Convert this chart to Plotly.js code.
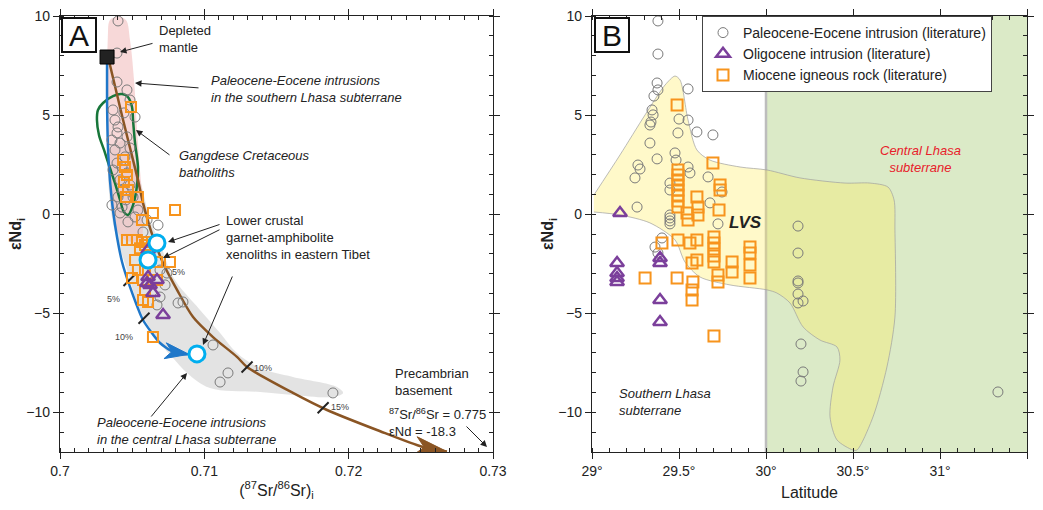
<!DOCTYPE html>
<html><head><meta charset="utf-8">
<script src="https://cdn.plot.ly/plotly-3.0.1.min.js"></script>
<style>html,body{margin:0;padding:0;background:#fff}#chart{width:1043px;height:510px}</style>
</head><body><div id="chart"></div>
<script>
// ---------- Panel A data: (87Sr/86Sr)i vs eNd(i) ----------
const peA_sr = [0.70402,0.70395,0.70395,0.70464,0.70520,0.70381,0.70402,0.70395,0.70416,0.70464,0.70381,0.70450,0.70395,0.70430,0.70464,0.70416,0.70437,0.70402,0.70457,0.70430,0.70416,0.70471,0.70520,0.70603,0.70679,0.70693,0.70741,0.70728,0.70693,0.70818,0.70852,0.70672,0.71060,0.71164,0.71109,0.71891,0.70367,0.70485,0.70443,0.70360,0.70485,0.70367,0.70485,0.70506,0.70360,0.70540,0.70575];
const peA_nd = [9.75,8.13,6.67,6.27,4.90,4.75,4.40,4.10,3.59,3.90,3.24,2.89,2.58,2.38,2.08,1.73,1.22,0.87,0.72,0.36,0.06,-0.39,-0.14,-0.29,-0.55,-2.82,-2.97,-3.57,-4.18,-4.48,-4.43,-4.58,-6.60,-8.01,-8.47,-9.02,5.26,5.76,5.11,3.74,3.34,2.23,1.47,0.87,0.46,0.21,-0.90];
const miA_sr = [0.70492,0.70437,0.70450,0.70464,0.70443,0.70471,0.70457,0.70540,0.70568,0.70644,0.70797,0.70464,0.70499,0.70533,0.70568,0.70589,0.70610,0.70520,0.70672,0.70762,0.70499,0.70575,0.70672,0.70589,0.70575,0.70610,0.70644,0.70554,0.70540,0.70589];
const miA_nd = [5.41,2.73,2.38,1.98,1.62,1.22,0.87,0.87,-0.29,0.06,0.21,-1.30,-1.30,-1.30,-1.40,-1.55,-1.40,-2.31,-2.41,-2.41,-3.22,-3.32,-3.32,-3.82,-4.33,-4.43,-6.20,-1.72,-2.82,-2.82];
const olA_sr = [0.70610,0.70610,0.70603,0.70624,0.70672,0.70644,0.70714];
const olA_nd = [-1.81,-3.17,-3.47,-3.57,-3.32,-3.98,-5.09];
const xeno_sr = [0.70672,0.70610,0.70949];
const xeno_nd = [-1.45,-2.31,-7.05];
const dm_sr = [0.70326];
const dm_nd = [7.93];
// mixing curves
const blue_sr = [0.70326,0.70326,0.70333,0.70346,0.70367,0.70395,0.70430,0.70485,0.70575,0.70693,0.70783,0.70850,0.70893];
const blue_nd = [7.93,5.76,3.24,1.73,0.21,-1.15,-2.41,-3.67,-5.34,-6.50,-6.95,-7.05,-7.07];
const brown_sr = [0.70333,0.70437,0.70540,0.70575,0.70644,0.70714,0.70811,0.70922,0.71060,0.71226,0.71296,0.71614,0.71850,0.72196,0.72515,0.72681];
const brown_nd = [7.93,4.75,1.73,0.57,-1.15,-2.46,-3.82,-5.19,-6.20,-7.20,-7.71,-9.02,-9.88,-10.89,-11.75,-11.98];
const pctTick_sr = [0.70478,0.70582,0.71296,0.71823];
const pctTick_nd = [-3.35,-5.25,-7.71,-9.77];
// fields
const pink_sr = [0.70333,0.70346,0.70402,0.70457,0.70485,0.70513,0.70534,0.70554,0.70575,0.70554,0.70450,0.70381,0.70346,0.70333,0.70326,0.70326];
const pink_nd = [9.29,9.80,9.98,9.80,8.79,6.77,4.25,2.23,0.21,-1.30,-1.30,-0.55,1.22,3.24,5.76,7.78];
const gray_sr = [0.70346,0.70450,0.70554,0.70624,0.70693,0.70783,0.70970,0.71109,0.71226,0.71386,0.71614,0.71919,0.71961,0.71891,0.71614,0.71386,0.71039,0.70880,0.70783,0.70693,0.70554,0.70464,0.70367,0.70333];
const gray_nd = [3.24,3.74,1.73,-0.29,-1.45,-3.17,-4.83,-5.99,-7.00,-7.76,-8.21,-8.72,-9.02,-9.22,-9.12,-8.97,-8.77,-8.01,-7.26,-6.50,-4.83,-2.82,-0.44,1.73];
const gang_sr = [0.70256,0.70263,0.70298,0.70367,0.70430,0.70471,0.70499,0.70506,0.70520,0.70540,0.70534,0.70506,0.70471,0.70443,0.70416,0.70381,0.70346,0.70305,0.70270,0.70256];
const gang_nd = [4.75,5.26,5.61,5.96,6.06,5.91,5.41,4.75,3.59,2.38,1.47,0.46,-0.04,0.11,0.72,1.57,2.33,3.24,4.00,4.75];

// ---------- Panel B data: latitude vs eNd(i) ----------
const peB_lat = [29.379,29.379,29.374,29.379,29.552,29.356,29.345,29.351,29.333,29.339,29.500,29.552,29.494,29.603,29.695,29.333,29.477,29.374,29.483,29.264,29.276,29.247,29.552,29.563,29.667,29.448,29.448,29.747,29.259,29.678,29.448,29.448,29.448,29.448,29.724,29.402,29.362,29.379,30.184,30.184,30.184,30.184,30.184,30.184,30.213,30.201,30.213,30.201,31.333];
const peB_nd = [9.75,8.08,6.62,6.27,6.32,5.96,5.26,5.01,4.50,4.65,4.80,4.75,4.10,4.15,4.00,3.59,3.09,2.79,2.73,2.48,2.28,1.83,2.38,2.08,1.88,1.57,1.22,1.12,0.36,0.57,-0.04,-0.19,-0.34,-0.49,-0.49,-1.20,-1.66,-1.96,-0.60,-1.96,-3.37,-3.47,-4.03,-4.48,-4.38,-6.55,-7.96,-8.42,-8.97];
const olB_lat = [29.161,29.144,29.144,29.144,29.144,29.391,29.391,29.391,29.391];
const olB_nd = [0.06,-2.46,-2.97,-3.22,-3.42,-2.21,-2.46,-4.33,-5.44];
const miB_lat = [29.489,29.494,29.494,29.494,29.494,29.494,29.494,29.494,29.494,29.546,29.552,29.603,29.609,29.609,29.695,29.736,29.736,29.730,29.402,29.494,29.563,29.603,29.701,29.701,29.701,29.701,29.701,29.575,29.603,29.908,29.908,29.908,29.908,29.805,29.805,29.724,29.724,29.305,29.489,29.580,29.575,29.575,29.701];
const miB_nd = [5.51,2.23,1.98,1.73,1.47,1.22,0.97,0.67,0.36,0.06,-0.29,0.87,0.36,-0.04,2.58,1.47,1.22,0.21,-1.45,-1.30,-1.45,-1.30,-1.15,-1.45,-1.76,-2.11,-2.41,-2.46,-2.31,-1.66,-1.96,-2.56,-3.22,-2.41,-2.92,-3.07,-3.42,-3.22,-3.22,-3.42,-3.82,-4.33,-6.15];
const lvs_lat = [29.011,29.161,29.305,29.420,29.477,29.506,29.552,29.603,29.678,29.851,30.006,30.195,30.454,30.598,30.701,30.736,30.741,30.741,30.695,30.615,30.523,30.500,30.408,30.368,30.385,30.425,30.408,30.310,30.213,30.138,30.063,30.006,29.793,29.621,29.534,29.477,29.333,29.161,29.011];
const lvs_nd = [0.97,2.99,5.01,6.52,6.97,6.77,4.75,3.24,2.73,2.38,2.23,1.83,1.57,1.57,1.37,0.72,-0.80,-5.19,-7.71,-10.23,-11.90,-11.90,-11.39,-10.23,-8.72,-7.36,-6.70,-6.35,-5.69,-4.48,-3.98,-3.82,-3.57,-3.17,-2.41,-1.30,-0.44,-0.04,0.11];
const centralLhasaLat = [30.0, 31.5];

const yTicks = [-10,-5,0,5,10];
const xTicksA = [0.70,0.71,0.72,0.73];
const xTickTextA = ['0.7','0.71','0.72','0.73'];
const xTicksB = [29,29.5,30,30.5,31,31.5];
const xTickTextB = ['29°','29.5°','30°','30.5°','31°','31.5°'];

const FONT = 'Arial, "Liberation Sans", sans-serif';
const CIRC = '#7a7a7a', ORANGE = '#f7941d', PURPLE = '#7b3f9b', CYAN = '#00aeef';

// geometry of panel A (used only to shape the curve arrowheads in screen space)
const W = 1043, H = 510, M = {l:60, r:16, t:16, b:58};
const plotW = W - M.l - M.r, plotH = H - M.t - M.b;
const domA = [0, 433/plotW], rangeXA = [0.7, 0.73], rangeY = [-12, 10];
const kx = plotW*(domA[1]-domA[0])/(rangeXA[1]-rangeXA[0]);
const ky = plotH/(rangeY[1]-rangeY[0]);
function arrowHead(xs, ys, backIdx, len, half){
  const n = xs.length, tx = xs[n-1], ty = ys[n-1];
  let dx = (tx - xs[backIdx])*kx, dy = (ty - ys[backIdx])*ky;
  const d = Math.hypot(dx, dy); dx/=d; dy/=d;
  const nx = -dy, ny = dx;
  const pts = [[0,0],[-len, half],[-0.72*len, 0],[-len, -half],[0,0]];
  return {x: pts.map(p => tx + (p[0]*dx + p[1]*nx)/kx), y: pts.map(p => ty + (p[0]*dy + p[1]*ny)/ky)};
}
const blueHead = arrowHead(blue_sr, blue_nd, blue_sr.length-3, 24, 8);
const brownHead = arrowHead(brown_sr, brown_nd, brown_sr.length-2, 32, 9);

const traces = [
  {x:gray_sr, y:gray_nd, xaxis:'x', yaxis:'y', mode:'lines', fill:'toself', fillcolor:'rgba(222,222,222,0.85)', line:{width:0, shape:'spline', smoothing:1}, showlegend:false, hoverinfo:'skip'},
  {x:pink_sr, y:pink_nd, xaxis:'x', yaxis:'y', mode:'lines', fill:'toself', fillcolor:'rgba(242,190,190,0.6)', line:{width:0, shape:'spline', smoothing:1}, showlegend:false, hoverinfo:'skip'},
  {x:gang_sr, y:gang_nd, xaxis:'x', yaxis:'y', mode:'lines', line:{color:'#17763a', width:2.5, shape:'spline', smoothing:1}, showlegend:false},
  {x:blue_sr, y:blue_nd, xaxis:'x', yaxis:'y', mode:'lines', line:{color:'#1f77c9', width:2.5, shape:'spline', smoothing:0.6}, showlegend:false},
  {x:blueHead.x, y:blueHead.y, xaxis:'x', yaxis:'y', mode:'lines', fill:'toself', fillcolor:'#1f77c9', line:{color:'#1f77c9', width:1}, showlegend:false, hoverinfo:'skip'},
  {x:brown_sr, y:brown_nd, xaxis:'x', yaxis:'y', mode:'lines', line:{color:'#8a5524', width:2.5, shape:'spline', smoothing:0.8}, showlegend:false},
  {x:brownHead.x, y:brownHead.y, xaxis:'x', yaxis:'y', mode:'lines', fill:'toself', fillcolor:'#8a5524', line:{color:'#8a5524', width:1}, showlegend:false, hoverinfo:'skip'},
  {x:pctTick_sr, y:pctTick_nd, xaxis:'x', yaxis:'y', mode:'markers', marker:{symbol:'line-ne', size:11, line:{color:'#222', width:2}}, showlegend:false},
  {x:peA_sr, y:peA_nd, xaxis:'x', yaxis:'y', mode:'markers', marker:{symbol:'circle-open', size:10, color:CIRC, line:{width:1}}, showlegend:false},
  {x:miA_sr, y:miA_nd, xaxis:'x', yaxis:'y', mode:'markers', marker:{symbol:'square-open', size:10, color:ORANGE, line:{width:2}}, showlegend:false},
  {x:olA_sr, y:olA_nd, xaxis:'x', yaxis:'y', mode:'markers', marker:{symbol:'triangle-up-open', size:12, color:PURPLE, line:{width:2.5}}, showlegend:false},
  {x:xeno_sr, y:xeno_nd, xaxis:'x', yaxis:'y', mode:'markers', marker:{symbol:'circle', size:16, color:'#fff', line:{color:CYAN, width:3}}, showlegend:false},
  {x:dm_sr, y:dm_nd, xaxis:'x', yaxis:'y', mode:'markers', marker:{symbol:'square', size:14, color:'#222', line:{color:'#000', width:1}}, showlegend:false},
  // Panel B
  {x:lvs_lat, y:lvs_nd, xaxis:'x2', yaxis:'y2', mode:'lines', fill:'toself', fillcolor:'rgba(255,238,90,0.33)', line:{color:'rgba(160,160,160,0.7)', width:1, shape:'spline', smoothing:0.8}, showlegend:false, hoverinfo:'skip'},
  {x:peB_lat, y:peB_nd, xaxis:'x2', yaxis:'y2', mode:'markers', name:'Paleocene-Eocene intrusion (literature)', marker:{symbol:'circle-open', size:10, color:CIRC, line:{width:1}}},
  {x:olB_lat, y:olB_nd, xaxis:'x2', yaxis:'y2', mode:'markers', name:'Oligocene intrusion (literature)', marker:{symbol:'triangle-up-open', size:12, color:PURPLE, line:{width:2.5}}},
  {x:miB_lat, y:miB_nd, xaxis:'x2', yaxis:'y2', mode:'markers', name:'Miocene igneous rock (literature)', marker:{symbol:'square-open', size:11, color:ORANGE, line:{width:2}}}
];

function P(px, py){ return {x:(px-M.l)/plotW, y:(H-M.b-py)/plotH}; }
function txt(px, py, text, opt){ const p=P(px,py); return Object.assign({xref:'paper', yref:'paper', x:p.x, y:p.y, text:text, showarrow:false, xanchor:'left', yanchor:'middle', align:'left', font:{family:FONT, size:13, color:'#222'}}, opt||{}); }
function arr(hx, hy, tx, ty){ const p=P(hx,hy); return {xref:'paper', yref:'paper', x:p.x, y:p.y, ax:tx-hx, ay:ty-hy, text:'', showarrow:true, arrowhead:2, arrowsize:1.3, arrowwidth:1, arrowcolor:'#222'}; }

const pctFont = {family:FONT, size:9, color:'#444'};
const annotations = [
  txt(79, 35, 'A', {xanchor:'center', font:{family:FONT, size:30, color:'#111'}, bordercolor:'#111', borderwidth:2, bgcolor:'#fff', width:30, height:30, borderpad:1, align:'center'}),
  txt(612, 35, 'B', {xanchor:'center', font:{family:FONT, size:30, color:'#111'}, bordercolor:'#111', borderwidth:2, bgcolor:'#fff', width:30, height:30, borderpad:1, align:'center'}),
  txt(157, 39, 'Depleted<br>mantle'),
  arr(120, 52, 154, 43),
  txt(209, 89, '<i>Paleocene-Eocene intrusions<br>in the southern Lhasa subterrane</i>'),
  arr(135, 83, 200, 88),
  txt(177, 164, '<i>Gangdese Cretaceous<br>batholiths</i>'),
  arr(136, 130, 171, 156),
  txt(224, 238, 'Lower crustal<br>garnet-amphibolite<br>xenoliths in eastern Tibet'),
  arr(168, 242, 221, 224),
  arr(163, 258, 221, 229),
  arr(203, 345, 233, 275),
  txt(95, 431, '<i>Paleocene-Eocene intrusions<br>in the central Lhasa subterrane</i>'),
  arr(187, 373, 150, 418),
  txt(393, 382, 'Precambrian<br>basement'),
  txt(387, 422, '<sup>87</sup>Sr/<sup>86</sup>Sr = 0.775<br>εNd = -18.3'),
  arr(487, 447, 465, 425),
  txt(113, 299, '5%', {xanchor:'center', font:pctFont}),
  txt(124, 337, '10%', {xanchor:'center', font:pctFont}),
  txt(178, 272, '5%', {xanchor:'center', font:pctFont}),
  txt(263, 368, '10%', {xanchor:'center', font:pctFont}),
  txt(340, 407, '15%', {xanchor:'center', font:pctFont}),
  txt(745, 222, '<b><i>LVS</i></b>', {xanchor:'center', font:{family:FONT, size:17, color:'#222'}}),
  txt(920, 159, '<i>Central Lhasa<br>subterrane</i>', {xanchor:'center', align:'center', font:{family:FONT, size:13, color:'#e8202a'}}),
  txt(617, 402, '<i>Southern Lhasa<br>subterrane</i>')
];

const shapes = [
  {type:'rect', xref:'x2', yref:'y2 domain', x0:centralLhasaLat[0], x1:centralLhasaLat[1], y0:0, y1:1, fillcolor:'#dbeac7', line:{width:0}, layer:'below'},
  {type:'line', xref:'x2', yref:'y2 domain', x0:centralLhasaLat[0], x1:centralLhasaLat[0], y0:0, y1:1, line:{color:'#bdbdbd', width:2.5}, layer:'below'}
];

function yax(anchor){ return {anchor:anchor, range:rangeY, tickvals:yTicks, ticks:'outside', ticklen:6, tickcolor:'#222', showline:true, linecolor:'#222', linewidth:1.2, mirror:'allticks', showgrid:false, zeroline:false,
  minor:{dtick:1, ticks:'inside', ticklen:4, tickcolor:'#222', showgrid:false}, tickfont:{family:FONT, size:14, color:'#222'},
  title:{text:'<b>εNd<sub>i</sub></b>', font:{family:FONT, size:16, color:'#222'}, standoff:0}}; }

const layout = {
  width:W, height:H, margin:M, paper_bgcolor:'#fff', plot_bgcolor:'rgba(0,0,0,0)',
  font:{family:FONT, color:'#222'}, showlegend:true,
  legend:{x:(702-60)/967, y:1, xanchor:'left', yanchor:'top', bgcolor:'#fff', bordercolor:'#444', borderwidth:1, font:{family:FONT, size:14, color:'#222'}, tracegroupgap:0, itemwidth:30},
  xaxis:{domain:domA, anchor:'y', range:rangeXA, tickvals:xTicksA, ticktext:xTickTextA, ticks:'outside', ticklen:6, tickcolor:'#222', showline:true, linecolor:'#222', linewidth:1.2, mirror:'allticks', showgrid:false, zeroline:false,
    minor:{dtick:0.001, ticks:'inside', ticklen:4, tickcolor:'#222', showgrid:false}, tickfont:{family:FONT, size:14, color:'#222'},
    title:{text:'(<sup>87</sup>Sr/<sup>86</sup>Sr)<sub>i</sub>', font:{family:FONT, size:16, color:'#222'}, standoff:6}},
  yaxis:yax('x'),
  xaxis2:{domain:[532/967, 1], anchor:'y2', range:[29,31.5], tickvals:xTicksB, ticktext:xTickTextB, ticks:'outside', ticklen:6, tickcolor:'#222', showline:true, linecolor:'#222', linewidth:1.2, mirror:'allticks', showgrid:false, zeroline:false,
    minor:{dtick:0.1, ticks:'inside', ticklen:4, tickcolor:'#222', showgrid:false}, tickfont:{family:FONT, size:14, color:'#222'},
    title:{text:'Latitude', font:{family:FONT, size:16, color:'#222'}, standoff:8}},
  yaxis2:yax('x2'),
  shapes:shapes, annotations:annotations
};

Plotly.newPlot('chart', traces, layout, {displayModeBar:false, staticPlot:true});
</script></body></html>
